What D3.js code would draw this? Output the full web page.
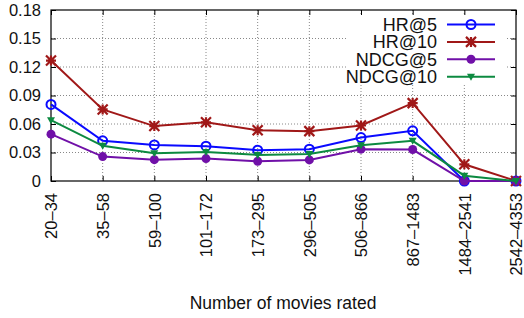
<!DOCTYPE html>
<html lang="en">
<head>
  <meta charset="UTF-8">
  <title>Metrics by number of movies rated</title>
  <script src="https://d3js.org/d3.v7.min.js"></script>
  <style>
      body { margin: 0; background: #fff; }
      text { font-family: "Liberation Sans", Arial, sans-serif; fill: #111; }
      .grid line { stroke: #888; stroke-dasharray: 1,2; stroke-width: 1; }
  </style>
</head>
<body>
<svg width="524" height="318"></svg>
<script>
  const categories = ["20\u201334", "35\u201358", "59\u2013100", "101\u2013172", "173\u2013295",
    "296\u2013505", "506\u2013866", "867\u20131483", "1484\u20132541", "2542\u20134353"];
  const hr5    = [0.0806, 0.0423, 0.0380, 0.0367, 0.0324, 0.0335, 0.0457, 0.0528, 0.0000, 0.0000];
  const hr10   = [0.1268, 0.0753, 0.0578, 0.0618, 0.0535, 0.0525, 0.0584, 0.0820, 0.0176, 0.0000];
  const ndcg5  = [0.0493, 0.0257, 0.0225, 0.0236, 0.0208, 0.0222, 0.0335, 0.0331, 0.0000, 0.0000];
  const ndcg10 = [0.0640, 0.0370, 0.0292, 0.0306, 0.0275, 0.0285, 0.0377, 0.0423, 0.0056, 0.0000];
  const yTicks = [0, 0.03, 0.06, 0.09, 0.12, 0.15, 0.18];

  const series = [
    {name: "HR@5", values: hr5, color: "#0a0aff", marker: "ring"},
    {name: "HR@10", values: hr10, color: "#a01818", marker: "star"},
    {name: "NDCG@5", values: ndcg5, color: "#7010a8", marker: "dot"},
    {name: "NDCG@10", values: ndcg10, color: "#0c8a40", marker: "tri"}
  ];

  const svg = d3.select("svg");
  const plotL = 51, plotR = 516, plotT = 10, plotB = 181;

  const x = d3.scalePoint().domain(categories).range([plotL, plotR]);
  const y = d3.scaleLinear().domain([0, 0.18]).range([plotB, plotT]);

  // grid
  const grid = svg.append("g").attr("class", "grid");
  grid.selectAll(".gy").data(yTicks.slice(1, -1)).enter().append("line")
    .attr("x1", plotL).attr("x2", plotR)
    .attr("y1", d => y(d)).attr("y2", d => y(d));
  grid.selectAll(".gx").data(categories.slice(1, -1)).enter().append("line")
    .attr("x1", d => x(d)).attr("x2", d => x(d))
    .attr("y1", plotT).attr("y2", plotB);

  // legend box hides the grid behind it
  svg.append("rect").attr("x", 346).attr("y", 15).attr("width", 160).attr("height", 70).attr("fill", "#fff");

  // axes (inward ticks, mirrored)
  const fmt = d => d === 0 ? "0" : d3.format(".2f")(d);
  svg.append("g").attr("transform", `translate(${plotL},0)`)
    .call(d3.axisLeft(y).tickValues(yTicks).tickFormat(fmt).tickSizeInner(-5).tickSizeOuter(0).tickPadding(10))
    .call(g => g.select(".domain").remove())
    .call(g => g.selectAll("text").style("font-size", "16.5px").attr("fill", "#111"));
  svg.append("g").attr("transform", `translate(${plotR},0)`)
    .call(d3.axisRight(y).tickValues(yTicks).tickFormat("").tickSizeInner(-5).tickSizeOuter(0))
    .call(g => g.select(".domain").remove());
  svg.append("g").attr("transform", `translate(0,${plotB})`)
    .call(d3.axisBottom(x).tickSizeInner(-5).tickSizeOuter(0).tickPadding(0))
    .call(g => g.select(".domain").remove())
    .call(g => g.selectAll("text")
      .style("font-size", "16.5px").attr("fill", "#111")
      .attr("text-anchor", "end")
      .attr("transform", "rotate(-90)")
      .attr("x", -12).attr("y", 0).attr("dy", "0.35em"));
  svg.append("g").attr("transform", `translate(0,${plotT})`)
    .call(d3.axisTop(x).tickFormat("").tickSizeInner(-5).tickSizeOuter(0))
    .call(g => g.select(".domain").remove());

  svg.append("rect")
    .attr("x", plotL).attr("y", plotT).attr("width", plotR - plotL).attr("height", plotB - plotT)
    .attr("fill", "none").attr("stroke", "#000").attr("stroke-width", 1.2);

  svg.append("text")
    .attr("x", 283).attr("y", 309)
    .attr("text-anchor", "middle")
    .style("font-size", "17.5px")
    .text("Number of movies rated");

  function drawMarker(g, type, color) {
    if (type === "ring") {
      g.append("circle").attr("r", 4.5).attr("fill", "none")
        .attr("stroke", color).attr("stroke-width", 2);
    } else if (type === "dot") {
      g.append("circle").attr("r", 4.5).attr("fill", color);
    } else if (type === "star") {
      const s = 5;
      g.append("path")
        .attr("d", `M${-s},${-s}L${s},${s}M${-s},${s}L${s},${-s}M0,${-s}L0,${s}M${-s},0L${s},0`)
        .attr("stroke", color).attr("stroke-width", 2.2);
    } else if (type === "tri") {
      g.append("path").attr("d", "M-4,-3L4,-3L0,4Z").attr("fill", color);
    }
  }

  const line = d3.line().x((d, i) => x(categories[i])).y(d => y(d));

  series.forEach(s => {
    const g = svg.append("g");
    g.append("path").datum(s.values)
      .attr("d", line)
      .attr("fill", "none")
      .attr("stroke", s.color)
      .attr("stroke-width", 2);
    s.values.forEach((v, i) => {
      drawMarker(g.append("g").attr("transform", `translate(${x(categories[i])},${y(v)})`), s.marker, s.color);
    });
  });

  // legend
  const legend = svg.append("g");
  series.forEach((s, i) => {
    const ly = 24.5 + i * 17.4;
    legend.append("text")
      .attr("x", 437).attr("y", ly).attr("dy", "0.35em")
      .attr("text-anchor", "end")
      .style("font-size", "18px")
      .text(s.name);
    legend.append("line")
      .attr("x1", 447).attr("x2", 495).attr("y1", ly).attr("y2", ly)
      .attr("stroke", s.color).attr("stroke-width", 2);
    drawMarker(legend.append("g").attr("transform", `translate(471,${ly})`), s.marker, s.color);
  });
</script>
</body>
</html>
